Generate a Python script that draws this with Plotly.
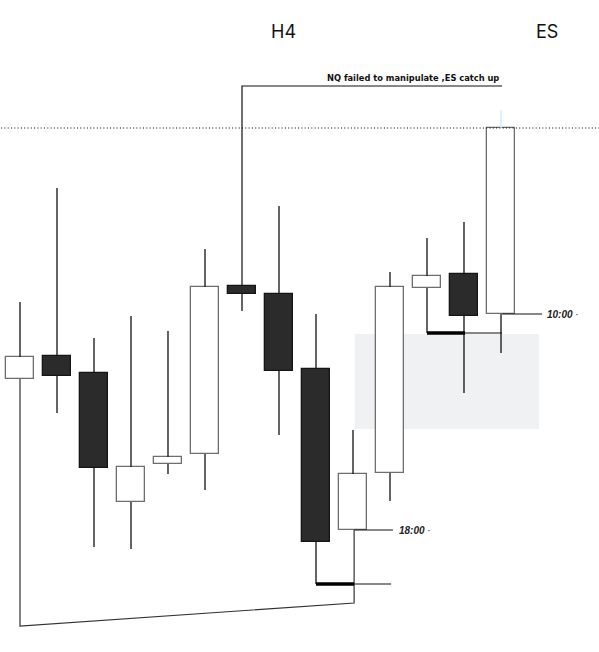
import plotly.graph_objects as go

# H4 candles, price units (higher = up)
opens = [273, 296, 279, 150, 188, 198, 366, 358, 283, 122, 179, 364, 378, 338]
highs = [350, 464, 314, 336, 321, 403, 366, 446, 338, 222, 380, 414, 430, 524]
lows = [273, 239, 105, 103, 178, 162, 341, 217, 68, 122, 151, 319, 259, 299]
closes = [295, 276, 184, 185, 195, 365, 358, 281, 110, 178, 365, 376, 336, 524]
xs = list(range(len(opens)))

up_fill, down_fill = "#ffffff", "#2b2b2b"
up_line, down_line = "#6e6e6e", "#151515"

bull = [c >= o for o, c in zip(opens, closes)]

# wicks as one broken line, upper and lower part kept off the body
wick_x, wick_y = [], []
for i, o, h, l, c in zip(xs, opens, highs, lows, closes):
    top, bot = max(o, c), min(o, c)
    if h > top:
        wick_x += [i, i, None]
        wick_y += [top, h, None]
    if l < bot:
        wick_x += [i, i, None]
        wick_y += [l, bot, None]

fig = go.Figure()

# shaded zone behind the candles
fig.add_shape(type="rect", x0=9.05, x1=14.03, y0=223, y1=318,
              fillcolor="#f0f1f3", line_width=0, layer="below")

fig.add_trace(go.Scatter(x=wick_x, y=wick_y, mode="lines",
                         line=dict(color="#111111", width=1.3),
                         hoverinfo="skip", showlegend=False))

fig.add_trace(go.Bar(
    x=xs,
    y=[abs(c - o) for o, c in zip(opens, closes)],
    base=[min(o, c) for o, c in zip(opens, closes)],
    width=0.76,
    marker=dict(color=[up_fill if b else down_fill for b in bull],
                line=dict(color=[up_line if b else down_line for b in bull], width=1.3)),
    showlegend=False,
))

line_k = dict(color="#111111", width=1.2)

# dotted level across the chart
fig.add_shape(type="line", x0=-0.6, x1=15.7, y0=524, y1=524,
              line=dict(color="#000000", width=1.2, dash="1px,2.3px"))
# light upper wick of last candle
fig.add_shape(type="line", x0=13, x1=13, y0=524, y1=542,
              line=dict(color="#c9eef7", width=1.3))

# NQ comment bracket
fig.add_shape(type="path", path="M 6,366 L 6,566 L 13.03,566", line=line_k)
fig.add_annotation(x=13.0, y=566, text="<b>NQ failed to manipulate ,ES catch up</b>",
                   showarrow=False, xanchor="right", yanchor="bottom", yshift=1,
                   font=dict(family="DejaVu Sans", size=8.3, color="#111111"))

# bottom connecting line
fig.add_shape(type="path", path="M 0,273 L 0,26 L 9.03,49 L 9.03,122",
              line=dict(color="#333333", width=1.2))

# sweep lows
fig.add_shape(type="line", x0=8.0, x1=9.03, y0=68, y1=68,
              line=dict(color="#000000", width=3.5))
fig.add_shape(type="line", x0=9.03, x1=10.03, y0=68, y1=68, line=line_k)
fig.add_shape(type="line", x0=11.0, x1=12.03, y0=319, y1=319,
              line=dict(color="#000000", width=3.5))
fig.add_shape(type="line", x0=12.03, x1=13.03, y0=319, y1=319, line=line_k)

# time markers
fig.add_shape(type="line", x0=9.03, x1=10.08, y0=122, y1=122, line=line_k)
fig.add_annotation(x=10.2, y=122, text="<b><i>18:00</i></b> ·", showarrow=False,
                   xanchor="left", font=dict(family="Liberation Sans", size=10, color="#222222"))
fig.add_shape(type="line", x0=13.03, x1=14.11, y0=338, y1=338, line=line_k)
fig.add_annotation(x=14.2, y=338, text="<b><i>10:00</i></b> ·", showarrow=False,
                   xanchor="left", font=dict(family="Liberation Sans", size=10, color="#222222"))

# titles
fig.add_annotation(x=0.4725, y=621, xref="paper", yref="y", text="H4", showarrow=False,
                   xanchor="center", font=dict(family="Inter", size=18, color="#111111"))
fig.add_annotation(x=0.913, y=621, xref="paper", yref="y", text="ES", showarrow=False,
                   xanchor="center", font=dict(family="Inter", size=18, color="#111111"))

fig.update_xaxes(visible=False, range=[-0.5405, 15.6486])
fig.update_yaxes(visible=False, range=[0, 652])
fig.update_layout(width=599, height=652, margin=dict(l=0, r=0, t=0, b=0),
                  paper_bgcolor="white", plot_bgcolor="white", bargap=0)

# drop the browser's default body margin so the figure fills the window
fig.write_html("out.html", config={"displayModeBar": False},
               post_script="document.body.style.margin = '0';")
